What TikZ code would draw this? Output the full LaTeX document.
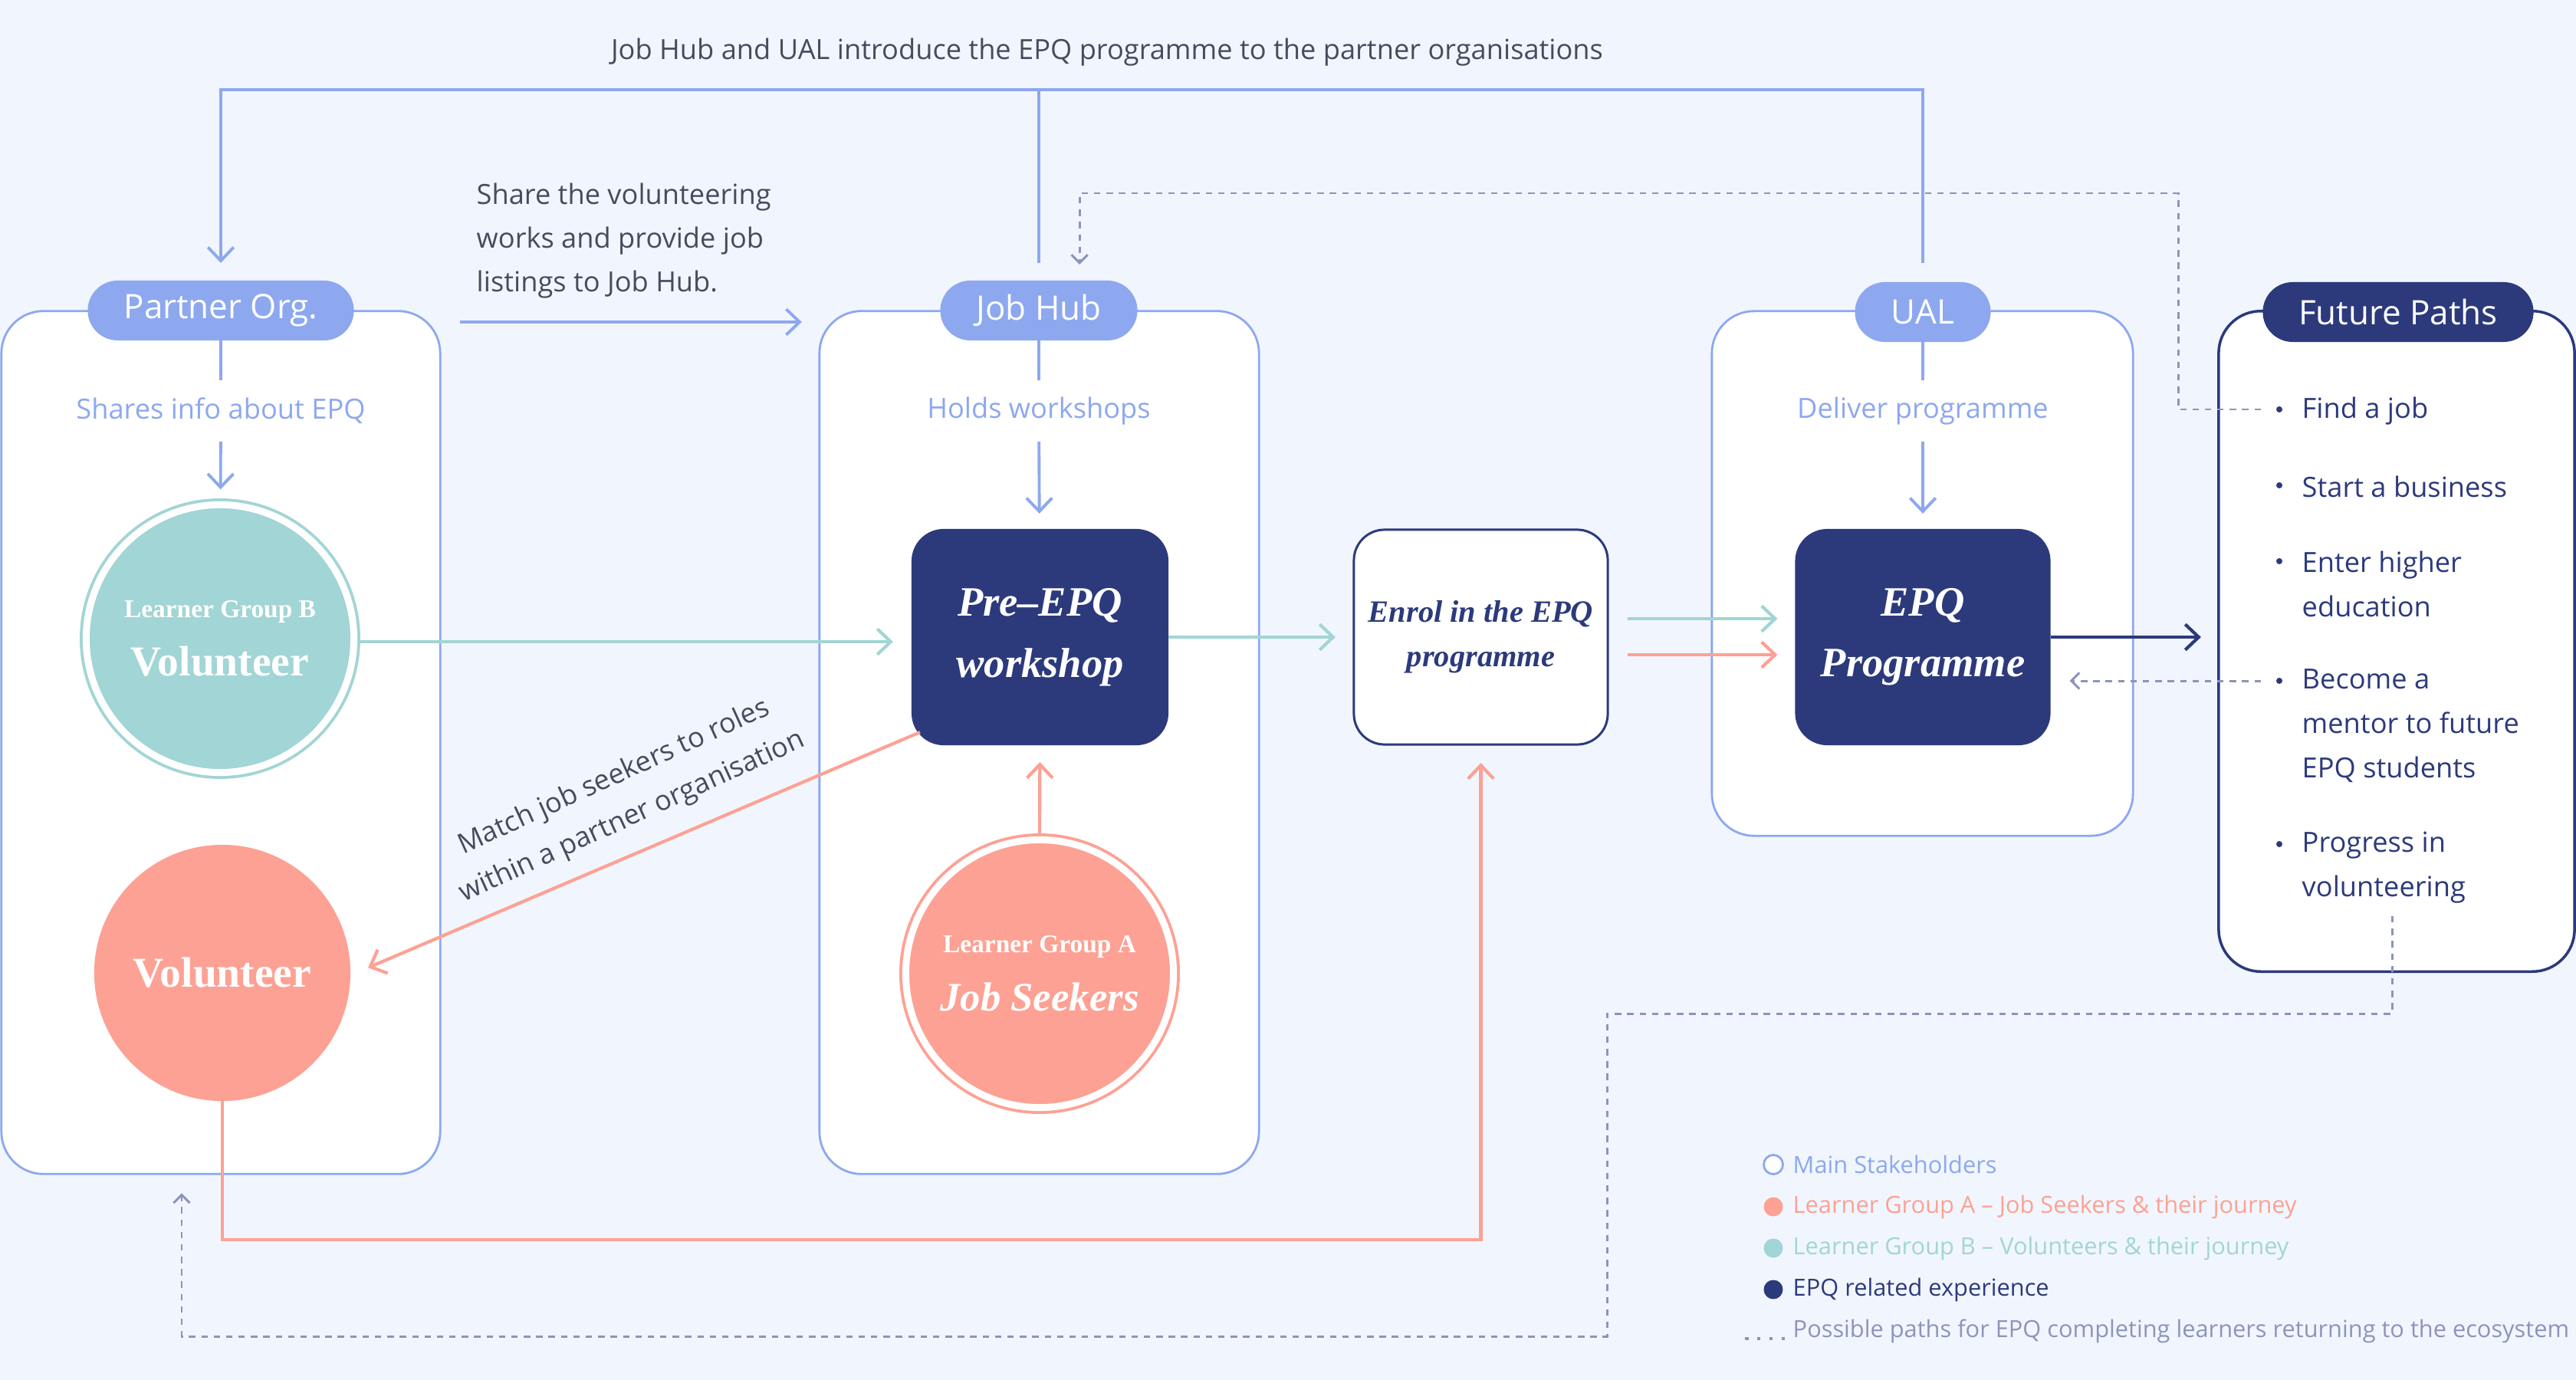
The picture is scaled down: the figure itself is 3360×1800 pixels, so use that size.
\documentclass[tikz,border=0pt]{standalone}
\usepackage{fontspec}
\setmainfont{Open Sans}
\newfontfamily\srf{Liberation Serif}
\usetikzlibrary{arrows.meta,calc}
\definecolor{bgc}{RGB}{241,246,254}
\definecolor{sblue}{RGB}{141,168,239}
\definecolor{tealc}{RGB}{162,213,213}
\definecolor{salm}{RGB}{253,161,148}
\definecolor{navy}{RGB}{44,58,124}
\definecolor{dgray}{RGB}{140,148,188}
\definecolor{tdark}{RGB}{72,75,95}
\begin{document}
\begin{tikzpicture}[x=0.01cm,y=-0.01cm,
  bline/.style={draw=sblue, line width=1.1pt},
  tline/.style={draw=tealc, line width=1.2pt},
  sline/.style={draw=salm, line width=1.2pt},
  nline/.style={draw=navy, line width=1.2pt},
  dline/.style={draw=dgray, line width=0.85pt, dash pattern=on 2.4pt off 2.2pt},
  arr/.style={-{Straight Barb[length=5pt,width=9.5pt]}},
  darr/.style={-{Straight Barb[length=3pt,width=6pt]}},
  container/.style={draw=sblue, line width=0.8pt, fill=white, rounded corners=0.55cm, inner sep=0, outer sep=0},
  pill/.style={fill=sblue, rounded corners=0.39cm, minimum height=0.78cm, inner sep=0, outer sep=0, text=white, font=\fontsize{12.5}{15}\selectfont},
  subt/.style={text=sblue, font=\fontsize{10.3}{13}\selectfont, minimum height=0.8cm, inner sep=0, outer sep=0},
  darkbox/.style={fill=navy, rounded corners=0.42cm, minimum width=3.35cm, minimum height=2.82cm, inner sep=0, outer sep=0, text=white, align=center},
  ringc/.style={circle, fill=#1, draw=#1, double=white, double distance=2.56pt, line width=1.1pt, minimum size=3.49cm, inner sep=0, outer sep=0, text=white, align=center},
  plainc/.style={circle, fill=#1, minimum size=3.34cm, inner sep=0, outer sep=0, text=white, align=center},
  bul/.style={circle, fill=navy, minimum size=0.08cm, inner sep=0, outer sep=0},
  item/.style={anchor=west, align=left, text=navy, inner sep=0, font=\fontsize{10.3}{16.5}\selectfont},
  lcirc/.style={circle, minimum size=0.25cm, inner sep=0, outer sep=0, line width=0.8pt},
  ltext/.style={anchor=west, inner sep=0, font=\fontsize{8.75}{10}\selectfont},
  note/.style={text=tdark, font=\fontsize{10.3}{16.2}\selectfont, inner sep=0}
]
% background
\fill[bgc] (0,0) rectangle (3360,1800);
\useasboundingbox (0,0) rectangle (3360,1800);

% containers
\node[container, minimum width=5.72cm, minimum height=11.25cm] (pbox) at (288,968.5) {};
\node[container, minimum width=5.73cm, minimum height=11.25cm] (jhbox) at (1355.5,968.5) {};
\node[container, minimum width=5.49cm, minimum height=6.84cm] (ualbox) at (2507.5,748) {};
\node[container, draw=navy, line width=1pt, minimum width=4.64cm, minimum height=8.61cm] (fbox) at (3126,836.5) {};

% pills
\node[pill, minimum width=3.47cm] (ppill) at (288,405) {Partner Org.};
\node[pill, minimum width=2.57cm] (jhpill) at (1355,405) {Job Hub};
\node[pill, minimum width=1.77cm] (ualpill) at (2508,407) {UAL};
\node[pill, fill=navy, minimum width=3.53cm] (fpill) at (3128,407) {Future Paths};

% subtitles
\node[subt] (psub) at (288,536) {Shares info about EPQ};
\node[subt] (jhsub) at (1355,536) {Holds workshops};
\node[subt] (usub) at (2508,536) {Deliver programme};

% circles
\node[ringc=tealc, font=\srf\bfseries\fontsize{15.8}{21.6}\selectfont] (volB) at (287,833) {{\fontsize{9.5}{11}\selectfont Learner Group B}\\Volunteer};
\node[plainc=salm, font=\srf\bfseries\fontsize{15.8}{19}\selectfont] (volA) at (290,1269) {Volunteer};
\node[ringc=salm, font=\srf\bfseries\fontsize{15}{21.6}\selectfont] (jobs) at (1356,1270) {{\fontsize{9.5}{11}\selectfont Learner Group A}\\{\itshape Job Seekers}};

% boxes
\node[darkbox, font=\srf\bfseries\itshape\fontsize{15.5}{22.7}\selectfont] (preepq) at (1356.5,831) {Pre–EPQ\\workshop};
\node[darkbox, fill=white, draw=navy, line width=0.85pt, text=navy, rounded corners=0.4cm, minimum width=3.31cm, minimum height=2.80cm, font=\srf\bfseries\itshape\fontsize{11.5}{16.5}\selectfont] (enrol) at (1931.5,831) {Enrol in the EPQ\\programme};
\node[darkbox, minimum width=3.33cm, font=\srf\bfseries\itshape\fontsize{15.5}{22.5}\selectfont] (epq) at (2508,831) {EPQ\\Programme};

% texts
\node[note] (toptext) at (1444,68) {Job Hub and UAL introduce the EPQ programme to the partner organisations};
\node[note, anchor=west, align=left] (share) at (621,314) {Share the volunteering\\works and provide job\\listings to Job Hub.};
\node[note, align=center, rotate=24.5] (match) at (813,1040) {Match job seekers to roles\\within a partner organisation};

% future items
\node[bul] (b1) at (2973,534) {};
\node[bul] (b2) at (2973,633) {};
\node[bul] (b3) at (2973,732) {};
\node[bul] (b4) at (2973,888) {};
\node[bul] (b5) at (2973,1101) {};
\node[item] (i1) at (3002,536) {Find a job};
\node[item] (i2) at (3002,635) {Start a business};
\node[item] (i3) at (3002,762) {Enter higher\\education};
\node[item] (i4) at (3002,947) {Become a\\mentor to future\\EPQ students};
\node[item] (i5) at (3002,1132) {Progress in\\volunteering};

% coordinates
\coordinate (topbar) at (0,117);
\coordinate (sharey) at (0,420);
\coordinate (obot) at (0,1617);
\coordinate (dtop) at (2841,252);
\coordinate (fpstart) at (3120,1195);
\coordinate (d2a) at (2096,1322);
\coordinate (d2b) at (237,1743);

% top introduction connector
\draw[bline, shorten <=0.23cm] (jhpill.north) -- (jhpill.north |- topbar);
\draw[bline, arr, shorten <=0.25cm, shorten >=0.23cm] (ualpill.north) -- (ualpill.north |- topbar) -| (ppill.north);

% share arrow
\draw[bline, arr, shorten <=0.26cm, shorten >=0.23cm] (pbox.east |- sharey) -- (jhbox.west |- sharey);

% stakeholder internal connectors
\draw[bline] (ppill) -- (psub);
\draw[bline, arr, shorten >=0.2cm] (psub) -- (volB);
\draw[bline] (jhpill) -- (jhsub);
\draw[bline, arr, shorten >=0.2cm] (jhsub) -- (preepq);
\draw[bline] (ualpill) -- (usub);
\draw[bline, arr, shorten >=0.2cm] (usub) -- (epq);

% teal journey
\draw[tline, arr, shorten >=0.24cm] ([xshift=0.085cm,yshift=-0.04cm]volB.east) -- ([yshift=-0.04cm]volB.east -| preepq.west);
\draw[tline, arr, shorten >=0.24cm] (preepq.east) -- (enrol.west);
\draw[tline, arr, shorten <=0.26cm, shorten >=0.23cm] ([yshift=0.24cm]enrol.east) -- ([yshift=0.24cm]enrol.east -| epq.west);

% salmon journey
\draw[sline, arr, shorten >=0.22cm] ([yshift=0.085cm]jobs.north) -- (preepq.south);
\draw[sline, arr, shorten >=0.25cm] ([shift={(0.11cm,0.17cm)}]preepq.south west) -- ([yshift=-0.03cm]volA.east);
\draw[sline, arr, shorten >=0.24cm] (volA.south) -- (volA.south |- obot) -| (enrol.south);
\draw[sline, arr, shorten <=0.26cm, shorten >=0.23cm] ([yshift=-0.23cm]enrol.east) -- ([yshift=-0.23cm]enrol.east -| epq.west);

% navy arrow
\draw[nline, arr, shorten >=0.23cm] (epq.east) -- (epq.east -| fbox.west);

% dashed return paths
\draw[dline, darr, shorten <=0.2cm, shorten >=0.21cm] (b1.west) -| (dtop) -| ([xshift=0.53cm]jhpill.north);
\draw[dline, darr, shorten <=0.2cm, shorten >=0.25cm] (b4.west) -- (b4.west -| epq.east);
\draw[dline, darr, shorten >=0.25cm] (fpstart) |- (d2a) |- (d2b) -- (pbox.south -| d2b);

% legend
\node[lcirc, draw=sblue, fill=white] (lg1) at (2313,1519) {};
\node[lcirc, fill=salm] (lg2) at (2313,1574) {};
\node[lcirc, fill=tealc] (lg3) at (2313,1628) {};
\node[lcirc, fill=navy] (lg4) at (2313,1682) {};
\node[ltext, text=sblue] (lt1) at (2338,1519) {Main Stakeholders};
\node[ltext, text=salm] (lt2) at (2338,1574) {Learner Group A – Job Seekers \& their journey};
\node[ltext, text=tealc] (lt3) at (2338,1628) {Learner Group B – Volunteers \& their journey};
\node[ltext, text=navy] (lt4) at (2338,1682) {EPQ related experience};
\node[ltext, text=dgray] (lt5) at (2338,1736) {Possible paths for EPQ completing learners returning to the ecosystem};
\draw[draw=dgray, line width=1.3pt, dash pattern=on 1.3pt off 3.2pt] (2276,1746) -- (lt5.west |- 0,1746);
\end{tikzpicture}
\end{document}
